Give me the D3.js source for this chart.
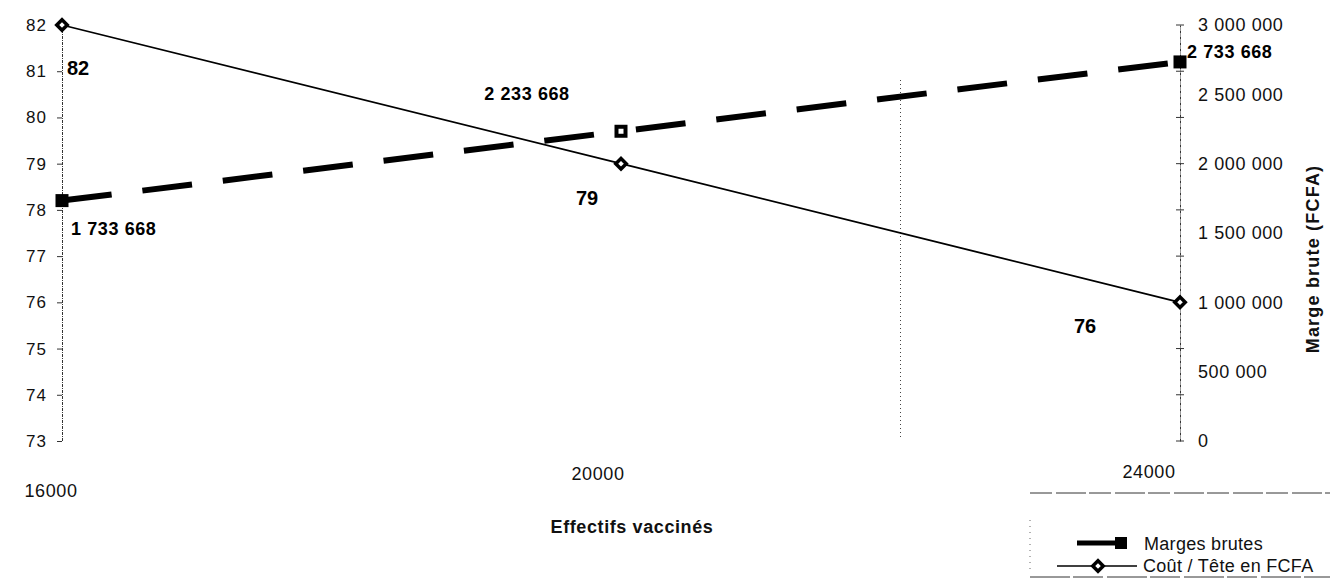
<!DOCTYPE html>
<html>
<head>
<meta charset="utf-8">
<script src="https://cdn.jsdelivr.net/npm/d3@7"></script>
<style>
  html, body { margin: 0; padding: 0; background: #fff; }
  svg { display: block; font-family: "Liberation Sans", Arial, sans-serif; }
</style>
</head>
<body>
<svg id="chart" width="1330" height="581"></svg>
<script>
// ---- data ----
const categories = [16000, 20000, 24000];
const margesBrutes = [1733668, 2233668, 2733668];
const coutTete = [82, 79, 76];
const leftTicks = [73, 74, 75, 76, 77, 78, 79, 80, 81, 82];
const rightTicks = [0, 500000, 1000000, 1500000, 2000000, 2500000, 3000000];
const gridValues = [22000];
const seriesNames = ["Marges brutes", "Coût / Tête en FCFA"];
const xTitle = "Effectifs vaccinés";
const yRightTitle = "Marge brute (FCFA)";

const svg = d3.select("#chart");
const fmt = v => d3.format(",")(v).replace(/,/g, " ");

const x = d3.scaleLinear().domain([16000, 24000]).range([62, 1180]);
const yL = d3.scaleLinear().domain([73, 82]).range([441, 25]);
const yR = d3.scaleLinear().domain([0, 3000000]).range([441, 25]);

// grid
svg.selectAll("line.grid").data(gridValues).join("line")
  .attr("x1", d => x(d)).attr("x2", d => x(d))
  .attr("y1", 80).attr("y2", 440)
  .attr("stroke", "#444").attr("stroke-width", 1).attr("stroke-dasharray", "1,3");

// left axis
const gL = svg.append("g").attr("transform", `translate(${x(16000)},0)`)
  .call(d3.axisLeft(yL).tickValues(leftTicks).tickSize(5).tickFormat(d3.format("d")));
gL.select(".domain").attr("stroke", "#333").attr("stroke-dasharray", "3,1,1,1");
gL.selectAll(".tick line").attr("stroke", "#333");
gL.selectAll(".tick text").attr("x", -15).attr("font-size", 17).attr("fill", "#111")
  .attr("letter-spacing", "1");

// right axis
const gR = svg.append("g").attr("transform", `translate(${x(24000)},0)`)
  .call(d3.axisRight(yR).tickValues(rightTicks).tickSize(0).tickFormat(fmt));
gR.select(".domain").attr("stroke", "#333").attr("stroke-dasharray", "3,1,1,1");
gR.selectAll(".tick text").attr("x", 18).attr("font-size", 18).attr("fill", "#111")
  .attr("letter-spacing", "0.6");
// minor ticks matching left-axis spacing
svg.append("g").selectAll("line").data(leftTicks).join("line")
  .attr("x1", x(24000) - 4).attr("x2", x(24000) + 4)
  .attr("y1", d => yL(d)).attr("y2", d => yL(d))
  .attr("stroke", "#333").attr("stroke-width", 1);

// x labels
svg.append("g").selectAll("text").data(categories).join("text")
  .attr("x", (d, i) => x(d) + [-11, -23, -31][i])
  .attr("y", (d, i) => [497, 480, 478][i])
  .attr("text-anchor", "middle").attr("font-size", 18).attr("fill", "#111")
  .attr("letter-spacing", "0.6")
  .text(d => d);

// axis titles
svg.append("text").attr("x", 632).attr("y", 533).attr("text-anchor", "middle")
  .attr("font-size", 18).attr("font-weight", "bold").attr("fill", "#111")
  .attr("letter-spacing", "0.6").text(xTitle);
svg.append("text").attr("transform", "translate(1319,259) rotate(-90)")
  .attr("text-anchor", "middle").attr("font-size", 18).attr("font-weight", "bold")
  .attr("letter-spacing", "1.2")
  .attr("fill", "#111").text(yRightTitle);

// Marges brutes line (thick dashed, pattern restarts on each segment)
const segs = d3.pairs(margesBrutes.map((d, i) => [x(categories[i]), yR(d)]));
const segOffsets = [0, -15];
svg.append("g").selectAll("line").data(segs).join("line")
  .attr("x1", d => d[0][0]).attr("y1", d => d[0][1])
  .attr("x2", d => d[1][0]).attr("y2", d => d[1][1])
  .attr("stroke", "#000").attr("stroke-width", 6)
  .attr("stroke-dasharray", "50,31")
  .attr("stroke-dashoffset", (d, i) => segOffsets[i]);
svg.append("g").selectAll("rect").data(margesBrutes).join("rect")
  .attr("x", (d, i) => x(categories[i]) - (i === 1 ? 4.5 : 6.5))
  .attr("y", (d, i) => yR(d) - (i === 1 ? 4.5 : 6.5))
  .attr("width", (d, i) => i === 1 ? 9 : 13).attr("height", (d, i) => i === 1 ? 9 : 13)
  .attr("fill", (d, i) => i === 1 ? "#fff" : "#000")
  .attr("stroke", "#000").attr("stroke-width", (d, i) => i === 1 ? 4 : 0);

// Coût / Tête line (thin solid)
const lineL = d3.line().x((d, i) => x(categories[i])).y(d => yL(d));
svg.append("path").datum(coutTete).attr("d", lineL)
  .attr("fill", "none").attr("stroke", "#000").attr("stroke-width", 1.8);
const diamond = d3.symbol().type(d3.symbolDiamond2).size(70);
svg.append("g").selectAll("path").data(coutTete).join("path")
  .attr("d", diamond)
  .attr("transform", (d, i) => `translate(${x(categories[i])},${yL(d)})`)
  .attr("fill", "#fff").attr("stroke", "#000").attr("stroke-width", 3.5);

// data labels
const coutLabelPos = [[67, 75, "start"], [587, 205, "middle"], [1085, 333, "middle"]];
svg.append("g").selectAll("text").data(coutTete).join("text")
  .attr("x", (d, i) => coutLabelPos[i][0]).attr("y", (d, i) => coutLabelPos[i][1])
  .attr("text-anchor", (d, i) => coutLabelPos[i][2])
  .attr("font-size", 20).attr("font-weight", "bold").attr("fill", "#000")
  .text(d => d);
const margeLabelPos = [[71, 235, "start"], [527, 100, "middle"], [1187, 58, "start"]];
svg.append("g").selectAll("text").data(margesBrutes).join("text")
  .attr("x", (d, i) => margeLabelPos[i][0]).attr("y", (d, i) => margeLabelPos[i][1])
  .attr("text-anchor", (d, i) => margeLabelPos[i][2])
  .attr("font-size", 18).attr("font-weight", "bold").attr("fill", "#000")
  .attr("letter-spacing", "0.6")
  .text(d => fmt(d));

// legend
const lg = svg.append("g");
lg.append("line").attr("x1", 1030).attr("x2", 1330).attr("y1", 493).attr("y2", 493)
  .attr("stroke", "#333").attr("stroke-dasharray", "22,4,30,3");
lg.append("line").attr("x1", 1030).attr("x2", 1330).attr("y1", 577).attr("y2", 577)
  .attr("stroke", "#333").attr("stroke-dasharray", "40,3,30,4");
lg.append("line").attr("x1", 1030).attr("x2", 1030).attr("y1", 520).attr("y2", 570)
  .attr("stroke", "#666").attr("stroke-dasharray", "1,5");
// entry 1
lg.append("line").attr("x1", 1077).attr("x2", 1122).attr("y1", 543).attr("y2", 543)
  .attr("stroke", "#000").attr("stroke-width", 5);
lg.append("rect").attr("x", 1115).attr("y", 537).attr("width", 12).attr("height", 12).attr("fill", "#000");
lg.append("text").attr("x", 1144).attr("y", 550).attr("font-size", 18).attr("fill", "#111")
  .attr("letter-spacing", "0.3").text(seriesNames[0]);
// entry 2
lg.append("line").attr("x1", 1057).attr("x2", 1137).attr("y1", 566).attr("y2", 566)
  .attr("stroke", "#000").attr("stroke-width", 1.5);
lg.append("path").attr("d", diamond).attr("transform", "translate(1098,566)")
  .attr("fill", "#fff").attr("stroke", "#000").attr("stroke-width", 3.5);
lg.append("text").attr("x", 1143).attr("y", 572).attr("font-size", 18).attr("fill", "#111")
  .attr("letter-spacing", "0.3").text(seriesNames[1]);
</script>
</body>
</html>
